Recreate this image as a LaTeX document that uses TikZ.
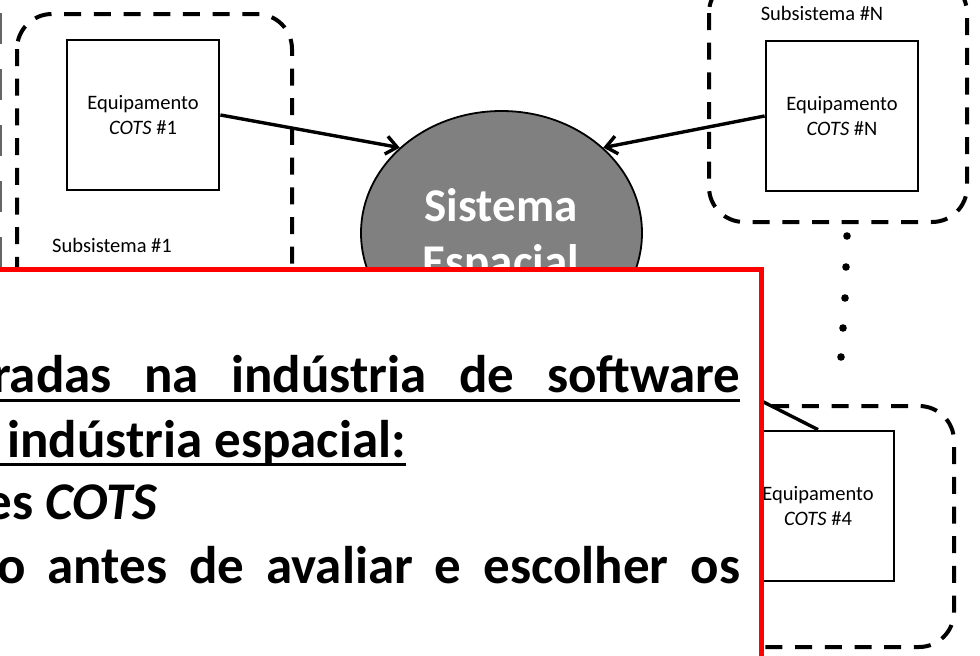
\documentclass[tikz,border=0pt]{standalone}
\usepackage{fontspec}
\setmainfont{Carlito}
\usetikzlibrary{shapes.geometric,arrows.meta}
\definecolor{sysgray}{RGB}{128,128,128}
\begin{document}
\begin{tikzpicture}[x=1pt,y=-1pt,
  subsys/.style={draw, line width=4pt, dash pattern=on 17pt off 12.7pt, rounded corners=35pt},
  equip/.style={draw, line width=2.8pt, minimum width=152pt, minimum height=150pt, inner sep=0pt, align=center, font=\fontsize{20.5}{24.5}\selectfont},
  small/.style={font=\fontsize{20.5}{24}\selectfont, inner sep=0pt},
  conn/.style={line width=3.4pt, -{Straight Barb[length=11pt,width=18pt]}},
  big/.style={font=\bfseries\fontsize{53}{62}\selectfont, inner sep=0pt},
  syslabel/.style={font=\bfseries\fontsize{47}{56}\selectfont, text=white, inner sep=0pt, anchor=base},
  ul/.style={line width=3pt},
]
\useasboundingbox (0,0) rectangle (980,656);
\clip (0,0) rectangle (980,656);

% partial dashed border at the left edge
\draw[black!60, line width=1.2pt, dash pattern=on 31pt off 25pt] (1,13) -- (1,268);

% subsystems
\draw[subsys] (17,14) rectangle (292,420);
\draw[subsys] (709,-22) rectangle (967,222);
\draw[subsys] (600,406) rectangle (954,647);

% equipment
\node[equip] (e1) at (143,115) {Equipamento\\\textit{COTS} \#1};
\node[equip] (eN) at (842,116) {Equipamento\\\textit{COTS} \#N};
\node[equip] (e4) at (818,506) {Equipamento\\\textit{COTS} \#4};

\node[small, anchor=base west] (s1) at (52,252) {Subsistema \#1};
\node[small, anchor=base] (sN) at (822,20) {Subsistema \#N};

% space system
\node[ellipse, draw, line width=1.8pt, fill=sysgray, minimum width=281pt, minimum height=244pt, inner sep=0pt] (sys) at (501.5,233) {};
\node[syslabel] (sysA) at (501,221) {Sistema};
\node[syslabel] (sysB) at (501,277) {Espacial};

% connectors
\draw[conn] (e1.east) -- (sys.140);
\draw[conn] (eN.west) -- (sys.40);
\draw[conn] (e4.north) -- (sys.-41);

% dots
\foreach \x/\y in {847/236, 846/267, 845/298, 843/328, 841/357}
  \fill (\x,\y) circle (3.8pt);

% overlay box
\draw[red, line width=5pt, fill=white] (-20,269) rectangle (761,720);

\node[big, anchor=base west] (l1) at (-8,392) {\makebox[748pt][s]{radas na indústria de software}};
\draw[ul] ([yshift=-8pt]l1.base west) -- ([yshift=-8pt]l1.base east);
\node[big, anchor=base west] (l2) at (7,457) {indústria espacial:};
\draw[ul] ([yshift=-7pt,xshift=-20pt]l2.base west) -- ([yshift=-7pt]l2.base east);
\node[big, anchor=base east] (l3) at (158,519) {es \textit{COTS}};
\node[big, anchor=base west] (l4) at (-3,583) {\makebox[743pt][s]{o antes de avaliar e escolher os}};
\end{tikzpicture}
\end{document}
